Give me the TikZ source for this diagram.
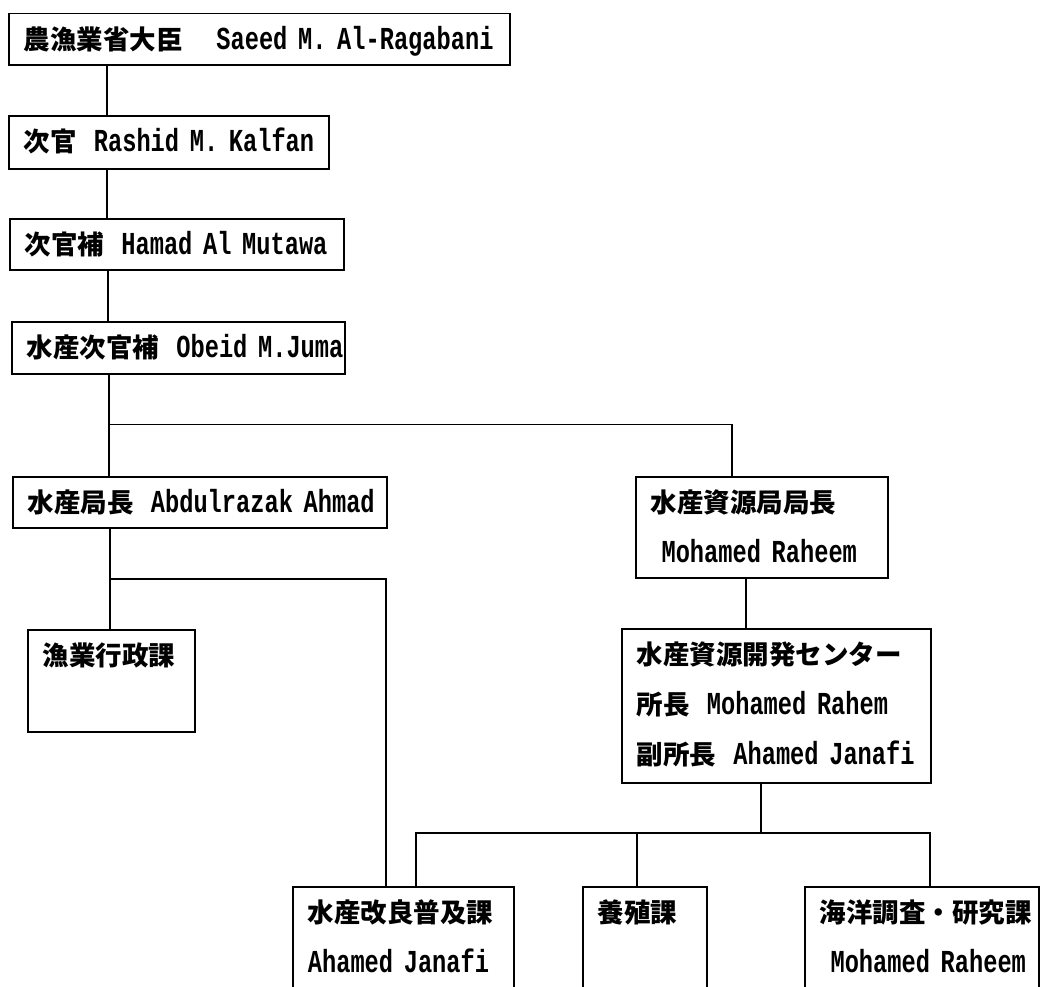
\documentclass[tikz,border=0pt]{standalone}
\usepackage{fontspec}
\setmainfont{Liberation Mono}[FakeStretch=0.74]
\newfontfamily\jpfont{Noto Sans CJK JP}
\newcommand\J[1]{{\jpfont\bfseries\fontsize{26.5}{50}\selectfont #1}}
\newcommand\jgap{\hspace*{17pt}}
\tikzset{
  orgbox/.style={draw=black, line width=1.8pt, anchor=north west,
    inner xsep=15pt, inner ysep=0pt, align=left, text height=36pt,
    font=\bfseries\fontsize{32}{50}\selectfont},
  link/.style={draw=black, line width=1.8pt}
}
\begin{document}
\begin{tikzpicture}[x=1pt,y=-1pt]
\fill[white] (0,0) rectangle (1040,986);
\useasboundingbox (0,0) rectangle (1040,986);
\clip (0,0) rectangle (1040,986);
% boxes
\node[orgbox, text width=471pt, text depth=15.5pt] (b1) at (8,12.6)
  {\mbox{\J{農漁業省大臣　}\hspace*{7pt}Saeed~M.~Al-Ragabani}};
\node[orgbox, text width=290pt, text depth=17pt] (b2) at (8,115)
  {\mbox{\J{次官}\jgap Rashid~M.~Kalfan}};
\node[orgbox, text width=304pt, text depth=15pt] (b3) at (9,218)
  {\mbox{\J{次官補}\jgap Hamad~Al~Mutawa}};
\node[orgbox, text width=303pt, text depth=16pt] (b4) at (11,321)
  {\mbox{\J{水産次官補}\jgap Obeid~M.Juma}};
\node[orgbox, text width=344pt, text depth=15pt] (b5) at (12,476)
  {\mbox{\J{水産局長}\jgap Abdulrazak~Ahmad}};
\node[orgbox, text width=222pt, text depth=65pt] (b6) at (635,476)
  {\J{水産資源局局長}\\\mbox{~Mohamed~Raheem}};
\node[orgbox, text width=137pt, text depth=66pt] (b7) at (27,629)
  {\J{漁業行政課}};
\node[orgbox, text width=279pt, text depth=118pt] (b8) at (621,628)
  {\J{水産資源開発センター}\\\mbox{\J{所長}\jgap Mohamed~Rahem}\\\mbox{\J{副所長}\jgap Ahamed~Janafi}};
\node[orgbox, text width=191pt, text depth=68pt] (b10) at (292,886)
  {\J{水産改良普及課}\\\mbox{Ahamed~Janafi}};
\node[orgbox, text width=94pt, text depth=68pt] (b11) at (582,886)
  {\J{養殖課}};
\node[orgbox, text width=204pt, text depth=68pt] (b12) at (804,886)
  {\J{海洋調査・研究課}\\\mbox{~Mohamed~Raheem}};
% junctions
\coordinate (j1) at (109,424.5);
\coordinate (j2) at (110,579);
\coordinate (j3) at (761,833);
\coordinate (t10) at ([xshift=124pt]b10.north west);
\coordinate (t11) at ([xshift=55pt]b11.north west);
\coordinate (t12) at ([xshift=126pt]b12.north west);
% connectors
\draw[link] ([xshift=99pt]b1.south west) -- ([xshift=99pt]b2.north west);
\draw[link] ([xshift=99pt]b2.south west) -- ([xshift=98pt]b3.north west);
\draw[link] ([xshift=99pt]b3.south west) -- ([xshift=97pt]b4.north west);
\draw[link] ([xshift=98pt]b4.south west) -- ([xshift=97pt]b5.north west);
\draw[link] (j1) -| ([xshift=97pt]b6.north west);
\draw[link] ([xshift=98pt]b5.south west) -- ([xshift=83pt]b7.north west);
\draw[link] (j2) -| ([xshift=94pt]b10.north west);
\draw[link] ([xshift=111pt]b6.south west) -- ([xshift=125pt]b8.north west);
\draw[link] ([xshift=140pt]b8.south west) -- (j3);
\draw[link] (t10) |- (j3) -| (t12);
\draw[link] (t11) -- (t11 |- j3);
\end{tikzpicture}
\end{document}
